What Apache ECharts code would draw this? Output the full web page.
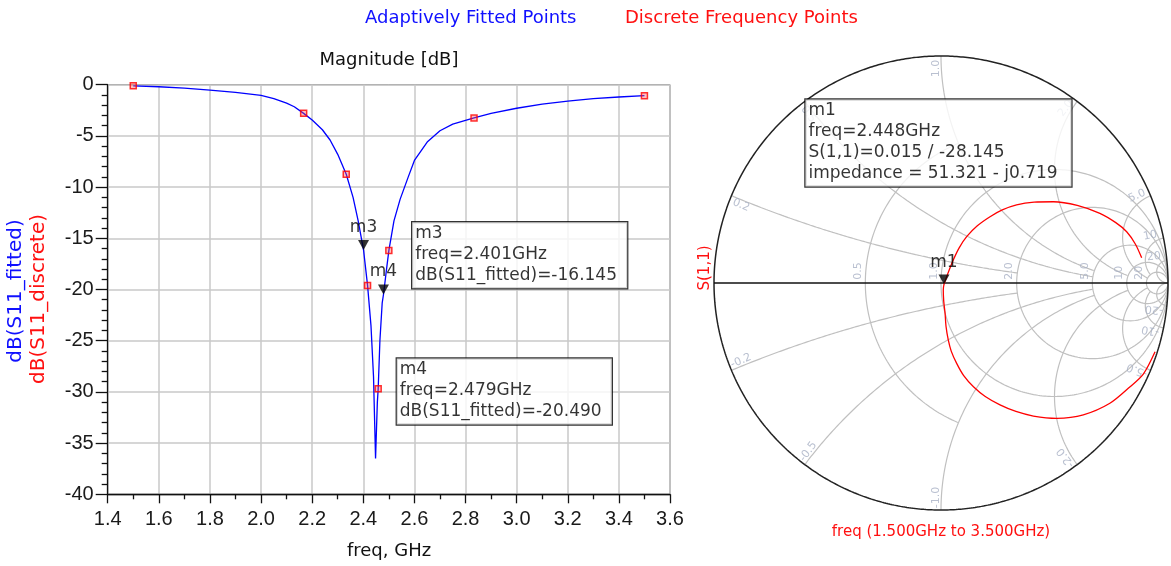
<!DOCTYPE html>
<html><head><meta charset="utf-8">
<script src="https://cdn.jsdelivr.net/npm/echarts@6/dist/echarts.min.js"></script>
<style>html,body{margin:0;padding:0;background:#fff}#c{width:1171px;height:566px}</style>
</head><body><div id="c"></div>
<script>
// ---------------- data ----------------
const fitFreq = [1.5,1.6,1.7,1.8,1.9,2.0,2.05,2.1,2.13,2.1667,2.2,2.24,2.27,2.3,2.3333,2.36,2.38,2.401,2.4167,2.43,2.44,2.448,2.455,2.4583,2.465,2.474,2.479,2.49,2.5,2.52,2.544,2.576,2.6,2.65,2.7,2.75,2.8333,2.9,3.0,3.1,3.2,3.3,3.4,3.5];
const fitDb   = [-0.12,-0.2,-0.33,-0.52,-0.75,-1.05,-1.35,-1.8,-2.15,-2.8,-3.45,-4.4,-5.4,-6.8,-8.75,-11.0,-13.3,-16.145,-19.6,-23.5,-28.5,-36.5,-31,-29.7,-25,-21.3,-20.49,-18.2,-16.2,-13.3,-11.2,-9.0,-7.4,-5.6,-4.5,-3.85,-3.25,-2.8,-2.3,-1.9,-1.6,-1.35,-1.2,-1.07];
const discFreq = [1.5,2.1667,2.3333,2.4167,2.4583,2.5,2.8333,3.5];
const discDb   = [-0.1,-2.8,-8.75,-19.6,-29.7,-16.2,-3.25,-1.07];
const markerNames = ['m3','m4'];
const markerFreq  = [2.401,2.479];
const markerDb    = [-16.145,-20.490];
// Smith chart: S(1,1) reflection coefficient, 1.5 GHz -> 3.5 GHz
const smithRe = [0.943,0.892,0.833,0.744,0.627,0.510,0.407,0.330,0.260,0.195,0.143,0.100,0.069,0.045,0.032,0.022,0.018,0.012,0.010,0.013,0.025,0.054,0.080,0.113,0.160,0.216,0.270,0.333,0.410,0.495,0.600,0.700,0.770,0.818,0.856,0.884];
const smithIm = [-0.303,-0.400,-0.457,-0.530,-0.581,-0.596,-0.586,-0.566,-0.537,-0.500,-0.457,-0.408,-0.354,-0.300,-0.251,-0.190,-0.134,-0.080,-0.031,-0.007,0.028,0.101,0.155,0.204,0.252,0.292,0.322,0.344,0.356,0.358,0.342,0.307,0.266,0.226,0.172,0.111];
const m1Freq = 2.448, m1Mag = 0.015, m1Ang = -28.145, m1Zr = 51.321, m1Zx = -0.719;
const rCircles = [0.5,1,2,5,10,20];
const xArcs = [0.2,0.5,1,2,5,10,20];
// ---------------------------------------
const FONT = 'DejaVu Sans';
const TICKFONT = 'Liberation Sans';
const rClip = {0.5:1, 1:Infinity, 2:Infinity, 5:Infinity, 10:Infinity, 20:Infinity};
const xClip = {0.2:2, 0.5:5, 1:5, 2:10, 5:20, 10:20, 20:Infinity};

function g2z(gx,gy){const d=(1-gx)*(1-gx)+gy*gy;return {r:(1-gx*gx-gy*gy)/d,x:2*gy/d};}
function arcSegments(cx,cy,rad,keep){
  const N=Math.max(1440,Math.ceil(rad*4000));const pts=[];
  for(let i=0;i<N;i++){const t=2*Math.PI*i/N;const gx=cx+rad*Math.cos(t),gy=cy+rad*Math.sin(t);pts.push([gx,gy,keep(gx,gy)]);}
  const s=pts.findIndex(p=>!p[2]);
  if(s<0){const a=pts.map(p=>[p[0],p[1]]);a.push(a[0]);return [a];}
  const segs=[];let cur=null;
  for(let k=1;k<=N;k++){const p=pts[(s+k)%N];if(p[2]){if(!cur)cur=[];cur.push([p[0],p[1]]);}else if(cur){segs.push(cur);cur=null;}}
  if(cur)segs.push(cur);return segs;
}
const gridSeries=[];
function addSegs(segs,color,width){segs.forEach(d=>gridSeries.push({type:'line',xAxisIndex:1,yAxisIndex:1,data:d,showSymbol:false,silent:true,clip:false,lineStyle:{color:color,width:width},z:1}));}
rCircles.forEach(r=>{
  const xm=rClip[r];
  addSegs(arcSegments(r/(r+1),0,1/(r+1),(gx,gy)=>{const z=g2z(gx,gy);return Math.abs(z.x)<=xm;}),'#c0c0c0',1.2);
});
xArcs.forEach(x=>{
  const rm=xClip[x];
  [x,-x].forEach(xx=>{
    addSegs(arcSegments(1,1/xx,1/Math.abs(xx),(gx,gy)=>{if(gx*gx+gy*gy>1.00001)return false;const z=g2z(gx,gy);return z.r<=rm;}),'#c0c0c0',1.2);
  });
});
addSegs(arcSegments(0,0,1,()=>true),'#222',1.5);
gridSeries.push({type:'line',xAxisIndex:1,yAxisIndex:1,data:[[-1,0],[1,0]],showSymbol:false,silent:true,clip:false,lineStyle:{color:'#111',width:1.3},z:2});

const smithLabels=[];
const fmt=v=>v>=10?String(v):v.toFixed(1);
rCircles.forEach(r=>{const g=(r-1)/(r+1);smithLabels.push({name:fmt(r),value:[g-0.008,0.014],label:{rotate:90,align:'left',verticalAlign:'bottom'}});});
xArcs.forEach(x=>{
  [x,-x].forEach(xx=>{
    const d=xx*xx+1;const bx=(xx*xx-1)/d,by=2*xx/d;
    const th=Math.atan2(by,bx);const thd=th*180/Math.PI;
    let rot;
    if(xx>0){rot=thd<=90?thd:thd-180;}else{rot=thd+180;}
    const sgn=xx>0?1:-1;
    const tx=-Math.sin(th)*sgn,ty=Math.cos(th)*sgn;
    const k=0.945;
    smithLabels.push({name:(xx<0?'-':'')+fmt(Math.abs(xx)),value:[bx*k+tx*0.022,by*k+ty*0.022],label:{rotate:rot}});
  });
});

const fitData=fitFreq.map((f,i)=>[f,fitDb[i]]);
const discData=discFreq.map((f,i)=>[f,discDb[i]]);
const markerData=markerNames.map((n,i)=>({name:n,value:[markerFreq[i],markerDb[i]]}));
const smithData=smithRe.map((v,i)=>[v,smithIm[i]]);
const m1Re=m1Mag*Math.cos(m1Ang*Math.PI/180),m1Im=m1Mag*Math.sin(m1Ang*Math.PI/180);

const boxLabel=(w,h)=>({show:true,position:[0,0],align:'left',verticalAlign:'top',fontFamily:FONT,fontSize:17,lineHeight:21,color:'#000',backgroundColor:'#fff',borderColor:'#000',borderWidth:1.2,padding:[1,4,2,3],width:w,height:h});

const option={
  animation:false,
  backgroundColor:'#fff',
  grid:[
    {left:107.7,top:84.7,width:562.3,height:409.6,show:true,borderColor:'#555',borderWidth:1,backgroundColor:'#fff'},
    {left:714,top:56,width:454,height:454,show:false}
  ],
  xAxis:[
    {gridIndex:0,type:'value',min:1.4,max:3.6,interval:0.2,
     axisLine:{onZero:false,lineStyle:{color:'#111',width:1.3}},
     axisTick:{length:9,lineStyle:{color:'#111',width:1.3}},
     minorTick:{show:true,splitNumber:2,length:5,lineStyle:{color:'#111',width:1.3}},
     splitLine:{show:true,lineStyle:{color:'#c8c8c8',width:1.5}},
     axisLabel:{margin:15,fontFamily:TICKFONT,fontSize:20,color:'#1a1a1a',formatter:v=>v.toFixed(1)}},
    {gridIndex:1,type:'value',min:-1,max:1,show:false}
  ],
  yAxis:[
    {gridIndex:0,type:'value',min:-40,max:0,interval:5,
     axisLine:{show:true,onZero:false,lineStyle:{color:'#111',width:1.3}},
     axisTick:{show:true,length:12,lineStyle:{color:'#111',width:1.3}},
     minorTick:{show:true,splitNumber:5,length:6,lineStyle:{color:'#111',width:1.3}},
     splitLine:{show:true,lineStyle:{color:'#c8c8c8',width:1.5}},
     axisLabel:{margin:14,fontFamily:TICKFONT,fontSize:20,color:'#1a1a1a'}},
    {gridIndex:1,type:'value',min:-1,max:1,show:false}
  ],
  graphic:[
    {type:'text',left:365,top:9,style:{text:'Adaptively Fitted Points',fill:'#1010ff',font:'18px "DejaVu Sans"'}},
    {type:'text',left:625,top:9,style:{text:'Discrete Frequency Points',fill:'#ff1010',font:'18px "DejaVu Sans"'}},
    {type:'text',x:389,y:60,style:{text:'Magnitude [dB]',fill:'#111',font:'18px "DejaVu Sans"',align:'center',verticalAlign:'middle'}},
    {type:'text',x:389,y:551,style:{text:'freq, GHz',fill:'#111',font:'18px "DejaVu Sans"',align:'center',verticalAlign:'middle'}},
    {type:'text',x:16,y:291,rotation:Math.PI/2,style:{text:'dB(S11_fitted)',fill:'#1010ff',font:'20px "DejaVu Sans"',align:'center',verticalAlign:'middle'}},
    {type:'text',x:39,y:299,rotation:Math.PI/2,style:{text:'dB(S11_discrete)',fill:'#ff1010',font:'20px "DejaVu Sans"',align:'center',verticalAlign:'middle'}},
    {type:'text',x:705,y:268,rotation:Math.PI/2,style:{text:'S(1,1)',fill:'#ff1010',font:'15px "DejaVu Sans"',align:'center',verticalAlign:'middle'}},
    {type:'text',x:941,y:532,style:{text:'freq (1.500GHz to 3.500GHz)',fill:'#ff1010',font:'15px "DejaVu Sans"',align:'center',verticalAlign:'middle'}}
  ],
  series:[
    ...gridSeries,
    {type:'scatter',xAxisIndex:1,yAxisIndex:1,data:smithLabels,symbolSize:0,silent:true,z:2,
     label:{show:true,position:'inside',formatter:'{b}',fontFamily:FONT,fontSize:11,color:'#a8b0c4'}},
    {type:'line',xAxisIndex:1,yAxisIndex:1,data:smithData,showSymbol:false,smooth:0.3,clip:false,lineStyle:{color:'#ff0000',width:1.3},z:5},
    {type:'scatter',xAxisIndex:1,yAxisIndex:1,data:[{name:'m1',value:[m1Re,m1Im]}],symbol:'triangle',symbolRotate:180,symbolSize:[11,10],symbolOffset:[0,-5],itemStyle:{color:'#000'},z:6,
     label:{show:true,position:'top',distance:4,formatter:'{b}',fontFamily:FONT,fontSize:17,color:'#000'}},
    {type:'scatter',xAxisIndex:1,yAxisIndex:1,data:[[-0.595,0.806]],symbolSize:1,itemStyle:{color:'rgba(0,0,0,0)'},z:7,
     label:Object.assign(boxLabel(259,84),{formatter:'m1\nfreq='+m1Freq.toFixed(3)+'GHz\nS(1,1)='+m1Mag.toFixed(3)+' / '+m1Ang.toFixed(3)+'\nimpedance = '+m1Zr.toFixed(3)+' - j'+Math.abs(m1Zx).toFixed(3)})},
    {type:'line',xAxisIndex:0,yAxisIndex:0,data:fitData,showSymbol:false,lineStyle:{color:'#0000ff',width:1.3},z:3},
    {type:'scatter',xAxisIndex:0,yAxisIndex:0,data:discData,symbol:'rect',symbolSize:6,itemStyle:{color:'rgba(255,80,80,0.45)',borderColor:'#ff0000',borderWidth:1.5},z:4},
    {type:'scatter',xAxisIndex:0,yAxisIndex:0,data:markerData,symbol:'triangle',symbolRotate:180,symbolSize:[11,10],symbolOffset:[0,-5],itemStyle:{color:'#000'},z:6,
     label:{show:true,position:'top',distance:4,formatter:'{b}',fontFamily:FONT,fontSize:17,color:'#000'}},
    {type:'scatter',xAxisIndex:0,yAxisIndex:0,data:[[2.5933,-13.48]],symbolSize:1,itemStyle:{color:'rgba(0,0,0,0)'},z:7,
     label:Object.assign(boxLabel(208,63),{formatter:markerNames[0]+'\nfreq='+markerFreq[0].toFixed(3)+'GHz\ndB(S11_fitted)='+markerDb[0].toFixed(3)})},
    {type:'scatter',xAxisIndex:0,yAxisIndex:0,data:[[2.533,-26.79]],symbolSize:1,itemStyle:{color:'rgba(0,0,0,0)'},z:7,
     label:Object.assign(boxLabel(208,63),{formatter:markerNames[1]+'\nfreq='+markerFreq[1].toFixed(3)+'GHz\ndB(S11_fitted)='+markerDb[1].toFixed(3)})}
  ]
};
const chart=echarts.init(document.getElementById('c'));
chart.setOption(option);
</script></body></html>
